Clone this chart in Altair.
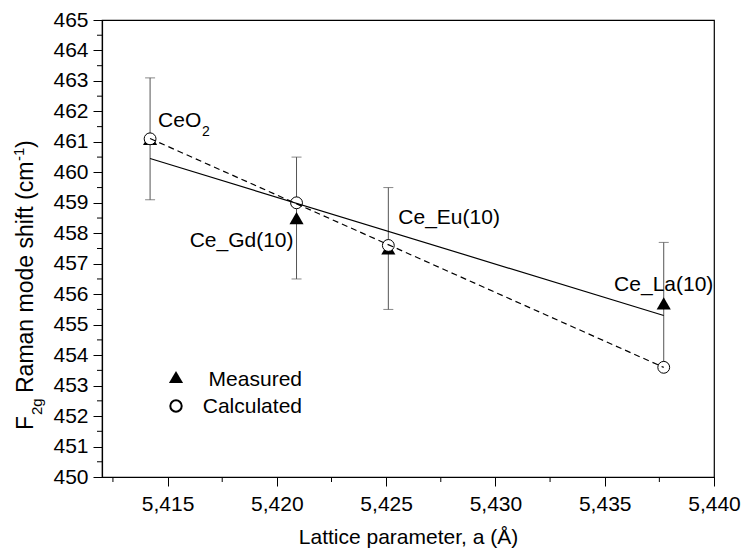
import altair as alt
import pandas as pd

FONT = "Liberation Sans"

# ---- data ----
samples = ["CeO2", "Ce_Gd(10)", "Ce_Eu(10)", "Ce_La(10)"]
lattice = [5.4142, 5.4209, 5.4251, 5.4377]
measured = [461.1, 458.5, 457.5, 455.7]
calculated = [461.1, 459.0, 457.6, 453.6]
error = [2.0, 2.0, 2.0, 2.0]

x_major = [5.415, 5.420, 5.425, 5.430, 5.435, 5.440]
x_minor = [5.4125, 5.4175, 5.4225, 5.4275, 5.4325, 5.4375]
y_major = [450, 451, 452, 453, 454, 455, 456, 457, 458, 459, 460, 461, 462,
           463, 464, 465]
y_minor = [450.5, 451.5, 452.5, 453.5, 454.5, 455.5, 456.5, 457.5, 458.5,
           459.5, 460.5, 461.5, 462.5, 463.5, 464.5]
legend_labels = ["Measured", "Calculated"]

W, H = 612, 457

df = pd.DataFrame({"sample": samples, "a": lattice, "measured": measured,
                   "calculated": calculated, "err": error})

xs = alt.Scale(domain=[5.412, 5.440], nice=False, zero=False)
ys = alt.Scale(domain=[450, 465], nice=False, zero=False)

x_axis = alt.Axis(
    values=x_major, tickSize=9,
    labelExpr="replace(format(datum.value, '.3f'), '.', ',')",
    labelOverlap=False, labelFlush=False, labelPadding=7, titlePadding=12,
    title="Lattice parameter, a (Å)",
)
y_axis = alt.Axis(
    values=y_major, tickSize=9, format="d",
    labelOverlap=False, labelFlush=False, labelPadding=5, title=None,
)


def X(field="a"):
    return alt.X(f"{field}:Q", scale=xs, axis=x_axis)


def Y(field):
    return alt.Y(f"{field}:Q", scale=ys, axis=y_axis)


base = alt.Chart(df)

# minor ticks
minor_x = alt.Chart(pd.DataFrame({"v": x_minor})).mark_rule(
    color="black", strokeWidth=1).encode(x=X("v"), y=alt.value(H), y2=alt.value(H + 5))
minor_y = alt.Chart(pd.DataFrame({"v": y_minor})).mark_rule(
    color="black", strokeWidth=1).encode(y=Y("v"), x=alt.value(0), x2=alt.value(-5))

bars = base.transform_calculate(lo="datum.measured - datum.err",
                                hi="datum.measured + datum.err")
err_rule = bars.mark_rule(color="#555555", strokeWidth=1).encode(
    x=X(), y=Y("lo"), y2="hi:Q")
cap_lo = bars.mark_tick(orient="horizontal", size=10, thickness=1, color="#555555").encode(
    x=X(), y=Y("lo"))
cap_hi = bars.mark_tick(orient="horizontal", size=10, thickness=1, color="#555555").encode(
    x=X(), y=Y("hi"))

fit_meas = base.transform_regression("a", "measured").mark_line(
    color="black", strokeWidth=1.2).encode(x=X(), y=Y("measured"))
fit_calc = base.transform_regression("a", "calculated").mark_line(
    color="black", strokeWidth=1.2, strokeDash=[6, 4]).encode(x=X(), y=Y("calculated"))

tri = base.mark_point(shape="triangle-up", filled=True, color="black", size=200,
                      opacity=1).encode(x=X(), y=Y("measured"))
circ = base.mark_point(shape="circle", filled=True, fill="white", stroke="black",
                       size=140, strokeWidth=1, opacity=1, fillOpacity=1).encode(
    x=X(), y=Y("calculated"))


def label(name, text, dx, dy, align, size=21):
    return base.transform_filter(alt.datum.sample == name).mark_text(
        font=FONT, fontSize=size, align=align, baseline="alphabetic", dx=dx, dy=dy,
        color="black").encode(x=X(), y=Y("measured"), text=alt.value(text))


lab_ceo = label("CeO2", "CeO", 8, -12, "left")
lab_ceo_sub = label("CeO2", "2", 52, -3, "left", size=14)
lab_gd = label("Ce_Gd(10)", "Ce_Gd(10)", -3, 29, "right")
lab_eu = label("Ce_Eu(10)", "Ce_Eu(10)", 10, -25, "left")
lab_la = label("Ce_La(10)", "Ce_La(10)", 0, -12, "center")

# ---- legend (drawn manually) ----
leg = alt.Chart(pd.DataFrame({"label": legend_labels}))
leg_tri = leg.transform_filter(alt.datum.label == "Measured").mark_point(
    shape="triangle-up", filled=True, color="black", size=200, opacity=1).encode(
    x=alt.value(74), y=alt.value(357))
leg_circ = leg.transform_filter(alt.datum.label == "Calculated").mark_point(
    shape="circle", filled=False, color="black", size=130, opacity=1).encode(
    x=alt.value(74), y=alt.value(386))
leg_t1 = leg.transform_filter(alt.datum.label == "Measured").mark_text(
    font=FONT, fontSize=21, align="right", baseline="alphabetic", color="black").encode(
    x=alt.value(200), y=alt.value(366), text="label:N")
leg_t2 = leg.transform_filter(alt.datum.label == "Calculated").mark_text(
    font=FONT, fontSize=21, align="right", baseline="alphabetic", color="black").encode(
    x=alt.value(200), y=alt.value(393), text="label:N")


# ---- y-axis title with sub/superscripts ----
def ytxt(text, x, y, size):
    return alt.Chart(pd.DataFrame({"t": [text]})).mark_text(
        font=FONT, fontSize=size, angle=270, align="left", baseline="alphabetic",
        color="black").encode(x=alt.value(x), y=alt.value(y), text="t:N")


yt_f = ytxt("F", -69, 410, 23)
yt_sub = ytxt("2g", -60, 395, 15)
yt_main = ytxt("Raman mode shift (cm", -69, 373, 23)
yt_sup = ytxt("-1", -78, 141, 15)
yt_close = ytxt(")", -69, 128, 23)

chart = alt.layer(
    minor_x, minor_y, err_rule, cap_lo, cap_hi, tri, circ, fit_meas, fit_calc,
    lab_ceo, lab_ceo_sub, lab_gd, lab_eu, lab_la,
    leg_tri, leg_circ, leg_t1, leg_t2,
    yt_f, yt_sub, yt_main, yt_sup, yt_close,
).properties(
    width=W, height=H,
    padding={"left": 94, "top": 12, "right": 28, "bottom": 75},
    autosize="none",
).configure_view(stroke="black", strokeWidth=1.2).configure_axis(
    labelFont=FONT, titleFont=FONT, labelFontSize=21, titleFontSize=21,
    titleFontWeight="normal", labelColor="black", titleColor="black",
    domainColor="black", tickColor="black", grid=False, domainWidth=1.2, tickWidth=1,
)

chart.save("out.html", embed_options={"renderer": "svg", "actions": False})
